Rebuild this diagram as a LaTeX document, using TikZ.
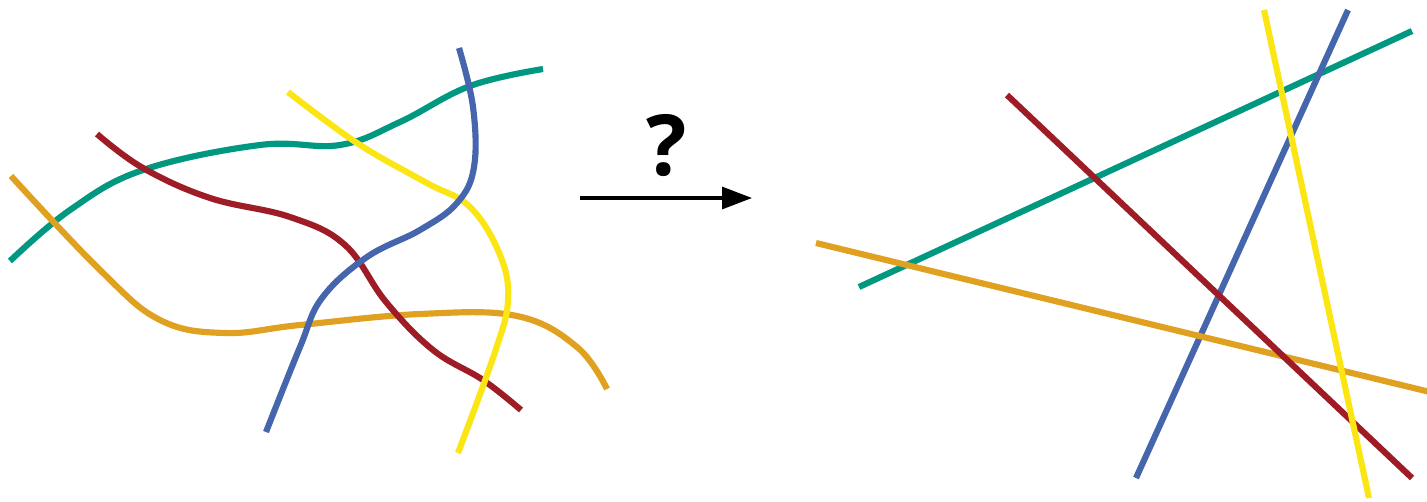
\documentclass[tikz,border=0pt]{standalone}
\usepackage{fontspec}
\setmainfont{Open Sans}
\usetikzlibrary{arrows.meta}
\definecolor{cgreen}{HTML}{009880}
\definecolor{corange}{HTML}{E0A020}
\definecolor{cred}{HTML}{9E1C25}
\definecolor{cblue}{HTML}{4565AD}
\definecolor{cyellow}{HTML}{FBE613}
\tikzset{
  strand/.style={line width=3.5pt, line cap=butt},
}
\begin{document}
\begin{tikzpicture}[x=0.02cm,y=-0.02cm]
\useasboundingbox[fill=white] (0,0) rectangle (1427,501);
% left: tangled curves
\draw[strand, cgreen] plot[smooth, tension=0.65] coordinates {(10,261) (70,210) (143,170) (260,145) (340,145) (400,122) (470,86) (543,69)};
\draw[strand, corange] plot[smooth, tension=0.65] coordinates {(11,176) (100,270) (160,320) (225,333) (300,325) (420,314) (517,316) (577,347) (607,389)};
\draw[strand, cred] plot[smooth, tension=0.65] coordinates {(97,134) (143,168) (210,198) (290,217) (345,245) (386,302) (433,350) (483,380) (521,410)};
\draw[strand, cyellow] plot[smooth, tension=0.65] coordinates {(288,92) (357,143) (425,182) (470,207) (500,255) (508,300) (495,352) (458,453)};
\draw[strand, cblue] plot[smooth, tension=0.65] coordinates {(459,48) (473,107) (474,167) (457,203) (420,230) (367,257) (322,298) (300,347) (266,432)};
% arrow with question mark
\coordinate (as) at (580,198);
\coordinate (ae) at (752,198);
\draw[line width=1.8pt, -{Triangle[length=0.6cm, width=0.44cm]}] (as) -- (ae);
\node[anchor=base, inner sep=0pt, font=\fontsize{48}{48}\selectfont\bfseries] (q) at (667,175) {?};
% right: straight lines
\draw[strand, cgreen] (859,287) -- (1412,31);
\draw[strand, cblue] (1348,10) -- (1136,478);
\draw[strand, corange] (816,243) -- (1430,392);
\draw[strand, cred] (1007,95) -- (1412,478);
\draw[strand, cyellow] (1264,10) -- (1369,498);
\end{tikzpicture}
\end{document}
